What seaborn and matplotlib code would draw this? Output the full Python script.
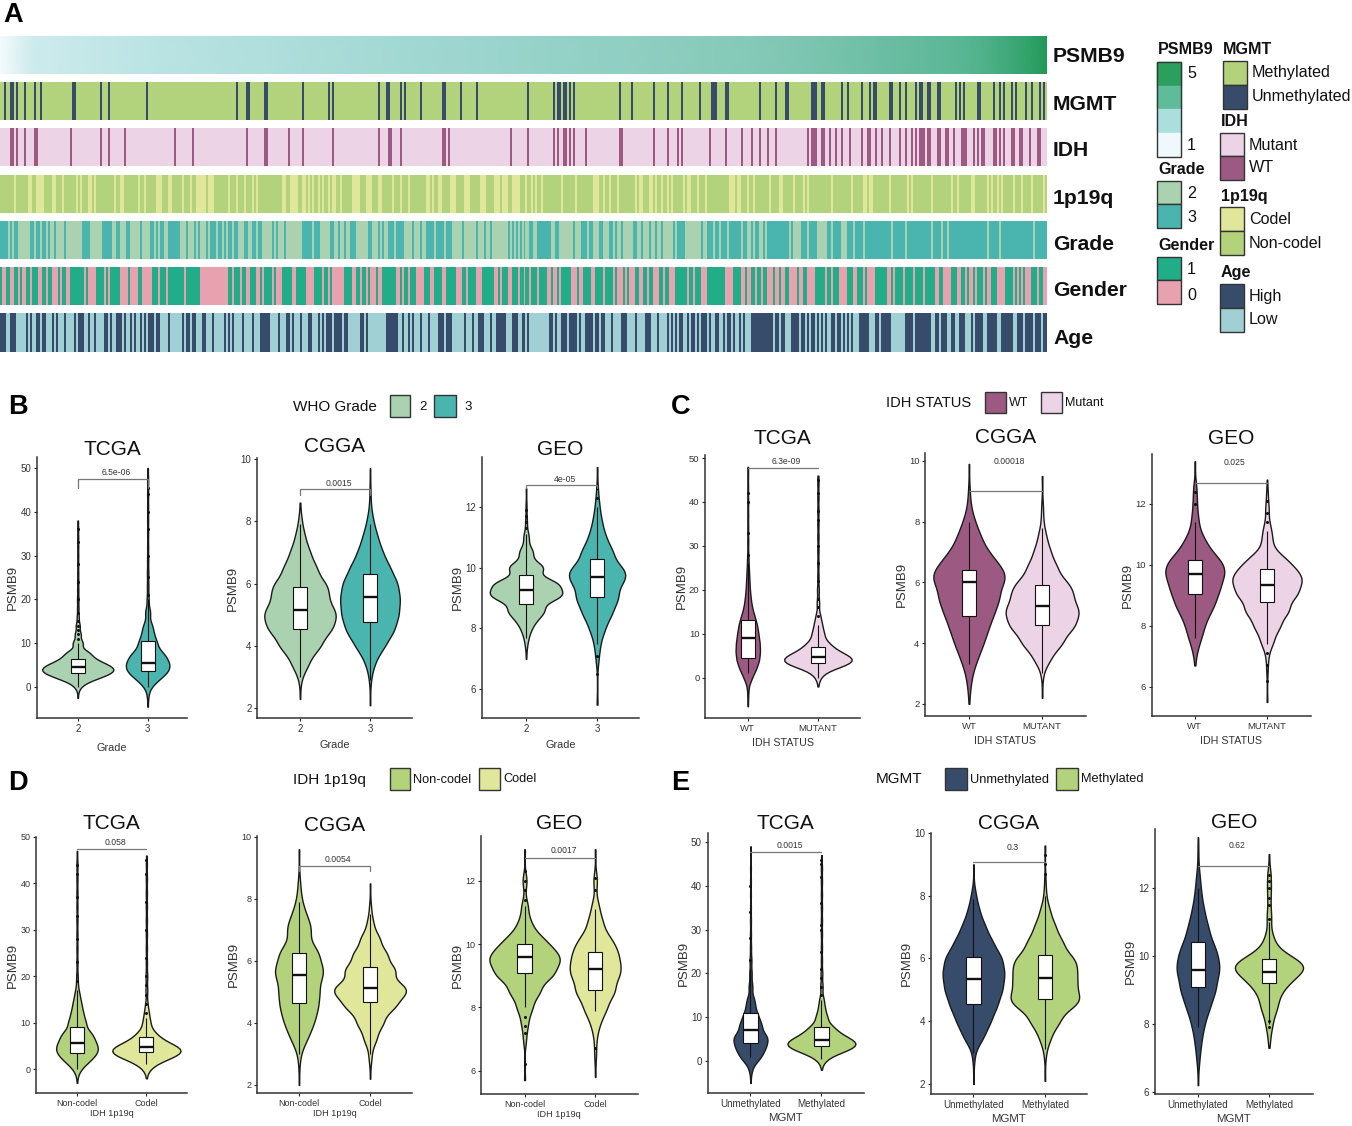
import numpy as np
import pandas as pd
import matplotlib
matplotlib.use("Agg")
import matplotlib.pyplot as plt
from matplotlib.colors import ListedColormap, LinearSegmentedColormap
from matplotlib.patches import Rectangle
import seaborn as sns

sns.set_theme(style="white")
plt.rcParams["font.family"] = ["Liberation Sans", "DejaVu Sans"]

W, H = 1352, 1126
N_SAMPLES = 524

# --------------------------------------------------
# colours
# --------------------------------------------------
C_METH = "#B2D27C"
C_UNMETH = "#374C6B"
C_MUT = "#EDD3E6"
C_WT = "#9C5A82"
C_CODEL = "#E0E69A"
C_G2 = "#AAD2B0"
C_G3 = "#4AB5AE"
C_M = "#21AD87"
C_F = "#E8A1AE"
C_HIGH = "#374C6B"
C_LOW = "#A0D0D4"

# --------------------------------------------------
# panel A: sample annotations, (first sample, run length)
# --------------------------------------------------
PSMB9_VALUES = [1.0, 1.25, 1.5, 1.58, 1.64, 1.7, 1.76, 1.82, 1.88, 1.94, 2.0, 2.03, 2.05, 2.08, 2.1, 2.13,
                2.15, 2.18, 2.2, 2.23, 2.25, 2.28, 2.3, 2.33, 2.35, 2.38, 2.4, 2.43, 2.45, 2.48, 2.5, 2.53,
                2.55, 2.58, 2.6, 2.63, 2.65, 2.68, 2.7, 2.73, 2.75, 2.78, 2.8, 2.83, 2.85, 2.9, 2.93, 2.96,
                3.0, 3.1, 3.2, 3.3, 3.4, 3.5, 3.6, 3.7, 3.8, 3.9, 4.0, 4.15, 4.3, 4.5, 4.7, 5.0]

MGMT_UNMETH = [(2, 1), (5, 2), (8, 1), (12, 1), (17, 1), (20, 1), (36, 2), (50, 1), (54, 1), (73, 1), (118, 1),
               (123, 2), (132, 2), (151, 1), (164, 1), (166, 1), (189, 1), (193, 2), (200, 1), (202, 1), (210, 1),
               (221, 2), (230, 1), (238, 1), (264, 1), (277, 1), (279, 2), (282, 2), (285, 1), (287, 1), (310, 1),
               (316, 1), (327, 1), (334, 1), (341, 1), (350, 1), (356, 3), (363, 2), (380, 1), (388, 1), (393, 2),
               (406, 1), (407, 2), (411, 2), (421, 1), (424, 1), (431, 1), (435, 1), (437, 2), (445, 1), (446, 1),
               (450, 1), (453, 1), (458, 1), (460, 2), (464, 2), (469, 2), (478, 1), (480, 1), (482, 1), (489, 2),
               (497, 1), (500, 1), (502, 1), (506, 1), (508, 1), (513, 1), (516, 1), (520, 1), (522, 1)]

IDH_WT = [(5, 2), (8, 1), (12, 1), (17, 2), (35, 1), (50, 1), (54, 1), (62, 1), (87, 1), (96, 1), (123, 1),
          (132, 2), (144, 1), (151, 1), (166, 1), (189, 1), (194, 2), (200, 1), (221, 2), (224, 1), (255, 1),
          (264, 1), (277, 1), (279, 1), (282, 2), (285, 1), (287, 1), (293, 1), (310, 2), (327, 1), (334, 1),
          (339, 1), (341, 1), (355, 1), (363, 1), (371, 1), (376, 1), (380, 1), (384, 1), (388, 1), (404, 1),
          (406, 3), (411, 2), (415, 1), (418, 1), (421, 1), (425, 1), (431, 1), (434, 2), (438, 1), (441, 1),
          (445, 1), (450, 1), (453, 1), (456, 1), (458, 1), (460, 3), (464, 2), (469, 2), (473, 2), (477, 1),
          (481, 3), (487, 1), (489, 1), (491, 2), (497, 2), (500, 1), (502, 1), (506, 2), (510, 2), (515, 1),
          (519, 2)]

CODEL = [(7, 1), (14, 2), (18, 4), (26, 2), (31, 1), (38, 1), (40, 1), (44, 2), (47, 1), (57, 1), (60, 2),
         (69, 1), (72, 1), (78, 3), (84, 2), (91, 1), (95, 1), (98, 1), (99, 4), (104, 3), (114, 1), (118, 1),
         (122, 1), (126, 1), (128, 1), (141, 2), (145, 4), (151, 2), (154, 1), (156, 1), (159, 1), (161, 1),
         (164, 1), (166, 2), (170, 1), (176, 4), (183, 3), (189, 2), (196, 1), (200, 1), (204, 1), (213, 2),
         (216, 1), (219, 2), (225, 3), (232, 3), (240, 3), (247, 3), (251, 3), (256, 4), (263, 1), (266, 1),
         (268, 1), (271, 1), (281, 1), (288, 1), (297, 3), (302, 1), (305, 1), (309, 1), (318, 1), (320, 2),
         (325, 2), (328, 1), (331, 1), (334, 1), (336, 1), (342, 1), (344, 2), (349, 1), (353, 1), (365, 3),
         (369, 2), (374, 1), (377, 1), (385, 1), (390, 2), (397, 1), (402, 1), (404, 1), (416, 1), (426, 1),
         (432, 2), (435, 2), (445, 1), (454, 1), (456, 1), (466, 1), (476, 1), (479, 1), (486, 2), (494, 1),
         (496, 1), (499, 1), (501, 1), (507, 1), (511, 1), (516, 1), (522, 1)]

GRADE_3 = [(0, 4), (5, 1), (7, 2), (15, 2), (18, 2), (21, 2), (24, 1), (27, 1), (32, 1), (41, 2), (43, 2), (51, 5),
           (58, 2), (63, 2), (70, 1), (75, 2), (78, 1), (80, 2), (84, 5), (89, 1), (93, 1), (97, 1), (99, 1),
           (103, 1), (105, 3), (109, 2), (112, 1), (114, 2), (117, 2), (122, 2), (126, 2), (129, 2), (136, 1),
           (138, 1), (142, 1), (151, 5), (157, 3), (165, 2), (169, 1), (172, 1), (175, 3), (184, 2), (189, 1),
           (191, 1), (194, 3), (198, 4), (206, 1), (210, 1), (213, 2), (215, 2), (218, 3), (220, 2), (223, 3),
           (231, 1), (238, 1), (242, 1), (245, 1), (254, 1), (256, 1), (258, 1), (260, 1), (262, 1), (265, 2),
           (269, 7), (278, 2), (287, 1), (291, 3), (295, 2), (300, 2), (305, 2), (308, 1), (311, 1), (317, 2),
           (321, 1), (325, 1), (328, 1), (331, 1), (337, 1), (339, 4), (351, 1), (354, 3), (358, 2), (361, 3),
           (365, 6), (372, 2), (376, 1), (378, 2), (382, 1), (384, 7), (391, 2), (393, 2), (396, 1), (401, 3),
           (405, 4), (414, 2), (417, 2), (419, 2), (424, 3), (428, 4), (433, 4), (437, 3), (440, 4), (444, 2),
           (447, 4), (451, 2), (454, 9), (463, 3), (467, 4), (472, 2), (475, 4), (479, 15), (495, 5), (501, 16),
           (518, 6)]

GENDER_0 = [(1, 2), (5, 2), (9, 1), (11, 2), (15, 1), (19, 1), (20, 1), (23, 1), (26, 3), (30, 1), (33, 2), (42, 1),
            (44, 4), (52, 1), (54, 1), (60, 4), (65, 4), (71, 5), (79, 1), (83, 1), (92, 1), (100, 14), (116, 1),
            (120, 1), (123, 2), (128, 2), (131, 1), (136, 1), (138, 3), (146, 2), (153, 4), (161, 1), (164, 1),
            (166, 6), (176, 2), (180, 1), (183, 1), (185, 3), (189, 2), (198, 2), (201, 1), (204, 1), (208, 4),
            (215, 1), (216, 1), (221, 2), (228, 3), (233, 1), (238, 3), (247, 2), (250, 1), (254, 2), (259, 1),
            (262, 1), (265, 1), (269, 1), (274, 2), (277, 2), (280, 1), (286, 3), (290, 2), (296, 2), (302, 1),
            (307, 1), (309, 3), (313, 1), (315, 3), (320, 2), (324, 1), (327, 3), (332, 1), (335, 3), (344, 1),
            (347, 1), (351, 3), (363, 4), (371, 2), (374, 2), (378, 1), (381, 1), (384, 3), (388, 2), (391, 2),
            (395, 4), (400, 2), (404, 4), (413, 1), (416, 1), (420, 4), (427, 2), (432, 1), (434, 4), (444, 2),
            (447, 1), (452, 1), (457, 1), (462, 1), (468, 2), (472, 4), (479, 2), (483, 1), (485, 1), (486, 1),
            (488, 1), (492, 1), (494, 1), (495, 1), (499, 4), (507, 1), (509, 1), (511, 1), (513, 3), (519, 1),
            (522, 2)]

AGE_HIGH = [(0, 3), (5, 3), (13, 1), (15, 1), (18, 2), (21, 1), (22, 1), (26, 1), (28, 1), (32, 1), (37, 1), (39, 3),
            (44, 1), (47, 1), (52, 1), (53, 1), (55, 1), (58, 3), (62, 1), (65, 1), (67, 1), (70, 1), (72, 1), (74, 3),
            (78, 2), (84, 1), (91, 1), (93, 2), (96, 2), (101, 2), (106, 1), (112, 1), (114, 1), (116, 1), (121, 1),
            (126, 1), (130, 1), (131, 4), (139, 1), (143, 1), (144, 1), (146, 1), (150, 1), (154, 2), (159, 1),
            (161, 1), (163, 3), (167, 4), (172, 2), (180, 2), (183, 1), (193, 6), (201, 1), (204, 1), (206, 1),
            (210, 1), (214, 1), (219, 3), (223, 3), (232, 1), (236, 1), (239, 3), (245, 1), (248, 5), (256, 3),
            (261, 1), (262, 1), (264, 1), (275, 2), (278, 1), (281, 3), (285, 4), (290, 1), (293, 4), (298, 2),
            (301, 2), (306, 1), (311, 2), (313, 1), (318, 1), (323, 3), (329, 1), (334, 1), (336, 1), (338, 1),
            (340, 1), (341, 1), (344, 1), (346, 2), (349, 1), (351, 3), (355, 1), (358, 1), (359, 1), (362, 1),
            (364, 2), (367, 1), (370, 1), (372, 1), (376, 11), (388, 2), (391, 2), (396, 4), (401, 1), (402, 1),
            (404, 1), (406, 2), (409, 1), (411, 1), (413, 1), (416, 2), (419, 2), (422, 1), (424, 1), (426, 1),
            (430, 5), (438, 2), (441, 5), (453, 1), (454, 3), (458, 8), (468, 2), (471, 3), (476, 2), (480, 3),
            (486, 1), (488, 4), (494, 5), (501, 6), (509, 3), (513, 4), (518, 3), (522, 2)]

# --------------------------------------------------
# violins: PSMB9 level, profile width at that level, box five numbers, tail points
# --------------------------------------------------
B_TCGA_2_Y = [-2.5, -1, 0, 1, 2, 3, 4, 5, 6, 7, 8, 10, 12, 14, 16, 18, 20, 22, 24, 26, 28, 30, 32, 34, 36, 38]
B_TCGA_2_W = [.5, 1, 6, 18, 45, 72, 85, 70, 45, 30, 20, 10, 6, 4, 2, 1.5, 1.5, 1.2, 1.2, 1, 1, 1, 1, 1, .8, .6]
B_TCGA_2_BOX = [0, 3.3, 4.5, 6.3, 10]
B_TCGA_2_OUT = [11, 12, 13, 14, 15, 17, 20, 24, 28, 33, 36]
B_TCGA_3_Y = [-4.5, -2, 0, 1, 2, 3, 4, 5, 6, 7, 8, 10, 12, 14, 17, 20, 23, 26, 29, 32, 35, 38, 41, 44, 47, 50]
B_TCGA_3_W = [.5, 1.5, 6, 15, 30, 42, 50, 52, 46, 38, 30, 22, 14, 9, 5, 2, 1.5, 1.5, 1.2, 1, 1, 1, 1, 1, 1, .5]
B_TCGA_3_BOX = [0, 3.6, 5.5, 10.5, 20]
B_TCGA_3_OUT = [21, 25, 30, 36, 40, 44, 45.5]

B_CGGA_2_Y = [2.3, 2.9, 3.2, 3.5, 4, 4.5, 4.9, 5.2, 5.6, 6, 6.5, 7, 7.5, 8, 8.6]
B_CGGA_2_W = [.5, 1.5, 9, 25, 50, 76, 85, 78, 68, 62, 40, 24, 12, 4, .7]
B_CGGA_2_BOX = [3.0, 4.55, 5.15, 5.9, 7.9]
B_CGGA_3_Y = [2.1, 3, 3.5, 4, 4.5, 5, 5.5, 6, 6.5, 7, 7.5, 8, 8.5, 9, 9.7]
B_CGGA_3_W = [.5, 2, 12, 35, 58, 68, 71, 66, 48, 30, 18, 8, 2, 1, .5]
B_CGGA_3_BOX = [2.9, 4.78, 5.58, 6.3, 7.9]

B_GEO_2_Y = [7, 7.4, 7.7, 8, 8.3, 8.6, 9, 9.2, 9.5, 10, 10.5, 11, 11.5, 12, 12.6]
B_GEO_2_W = [.5, 2, 6, 14, 28, 48, 76, 85, 72, 38, 15, 6, 2, 1, .5]
B_GEO_2_BOX = [7.7, 8.8, 9.25, 9.75, 11.1]
B_GEO_2_OUT = [11.3, 11.5, 11.7, 11.9]
B_GEO_3_Y = [5.5, 7, 7.5, 8, 8.5, 9, 9.5, 9.8, 10, 10.5, 11, 11.5, 12, 12.5, 13.3]
B_GEO_3_W = [.5, 2, 8, 20, 38, 55, 65, 66, 62, 42, 22, 12, 6, 2, .5]
B_GEO_3_BOX = [7.5, 9.03, 9.68, 10.27, 12]
B_GEO_3_OUT = [6.5, 7.1, 12.3, 12.6]

C_TCGA_WT_Y = [-6.5, -4, -2, 0, 2, 4, 6, 8, 10, 12, 14, 16, 18, 20, 22, 24, 26, 28, 31, 34, 37, 40, 43, 46, 48]
C_TCGA_WT_W = [.5, 1, 2, 10, 20, 27, 29, 28, 25, 22, 16, 10, 7, 5, 4, 3, 2, 1.2, 1, .8, .8, .8, .6, .6, .5]
C_TCGA_WT_BOX = [1, 4.5, 9, 13.2, 26]
C_TCGA_WT_OUT = [28, 33, 40, 42]
C_TCGA_MUT_Y = [-2, 0, 1, 2, 3, 4, 5, 6, 7, 8, 10, 12, 14, 17, 20, 23, 26, 29, 32, 35, 38, 41, 44, 46]
C_TCGA_MUT_W = [.5, 4, 8, 25, 62, 80, 60, 38, 25, 18, 12, 8, 4, 2, 1.5, 1, 1, 1, 1, 1, 1, 1, 1, 1]
C_TCGA_MUT_BOX = [0, 3.3, 4.7, 7, 12]
C_TCGA_MUT_OUT = [14, 16, 18, 22, 26, 30, 36, 38, 42, 45]

C_CGGA_WT_Y = [2, 2.5, 3, 3.5, 4, 4.5, 5, 5.5, 6, 6.3, 6.6, 7, 7.5, 8, 8.5, 9, 9.9]
C_CGGA_WT_W = [.5, 3, 8, 20, 34, 45, 58, 72, 81, 80, 68, 45, 28, 14, 4, 1.5, .5]
C_CGGA_WT_BOX = [3.3, 4.9, 6, 6.4, 8]
C_CGGA_MUT_Y = [2.2, 3, 3.5, 4, 4.5, 4.9, 5.2, 5.6, 6, 6.5, 7, 7.5, 8, 8.5, 9.5]
C_CGGA_MUT_W = [.5, 2, 20, 48, 75, 83, 80, 75, 58, 35, 20, 10, 3, 1.5, .5]
C_CGGA_MUT_BOX = [3, 4.6, 5.23, 5.9, 7.8]

C_GEO_WT_Y = [6.7, 7, 7.4, 7.8, 8.2, 8.5, 8.8, 9.2, 9.6, 9.9, 10.2, 10.6, 11, 11.5, 12, 12.5, 13.4]
C_GEO_WT_W = [.5, 3, 10, 20, 27, 35, 50, 60, 68, 66, 58, 32, 15, 8, 5, 3, .5]
C_GEO_WT_BOX = [7.6, 9.03, 9.7, 10.15, 11.4]
C_GEO_WT_OUT = [12.0, 12.4]
C_GEO_MUT_Y = [5.5, 6.5, 7, 7.5, 8, 8.5, 9, 9.4, 9.7, 10, 10.3, 10.8, 11.2, 11.8, 12.3, 12.8]
C_GEO_MUT_W = [.5, 1, 3, 15, 30, 50, 68, 80, 78, 58, 30, 12, 8, 4, 2, .5]
C_GEO_MUT_BOX = [7.4, 8.77, 9.35, 9.85, 11.1]
C_GEO_MUT_OUT = [6.2, 6.7, 7.1, 11.4, 11.7, 12.1]

D_TCGA_NC_Y = [-3, -1, 0, 1, 2, 3, 4, 5, 6, 7, 8, 10, 12, 14, 16, 18, 20, 23, 26, 29, 32, 35, 38, 41, 44, 47]
D_TCGA_NC_W = [.5, 2, 8, 20, 32, 42, 50, 47, 40, 34, 28, 20, 14, 10, 6, 2, 1.5, 1, 1, 1, 1, 1, 1, 1, 1, .5]
D_TCGA_NC_BOX = [0, 3.5, 5.5, 9, 17]
D_TCGA_NC_OUT = [19, 23, 28, 33, 37, 42, 44]
D_TCGA_CO_Y = [-2, 0, 1, 2, 3, 4, 5, 6, 7, 8, 10, 12, 14, 17, 20, 23, 26, 29, 32, 35, 38, 41, 44, 46]
D_TCGA_CO_W = [.5, 5, 15, 38, 65, 82, 60, 35, 22, 14, 8, 5, 2, 1.5, 1.5, 1, 1, 1, 1, 1, 1, 1, 1, .5]
D_TCGA_CO_BOX = [1, 3.7, 4.7, 6.8, 11]
D_TCGA_CO_OUT = [12, 14, 16, 18, 20, 24, 30, 36, 42, 45]

D_CGGA_NC_Y = [2, 2.8, 3, 3.5, 4, 4.5, 5, 5.5, 5.8, 6.3, 7, 7.5, 8, 8.5, 9.6]
D_CGGA_NC_W = [.5, 1.5, 3, 22, 38, 48, 52, 56, 56, 46, 30, 18, 6, 2, .5]
D_CGGA_NC_BOX = [3, 4.65, 5.55, 6.25, 7.9]
D_CGGA_CO_Y = [2.2, 2.8, 3, 3.5, 4, 4.5, 4.9, 5.2, 5.7, 6.2, 6.7, 7.2, 7.7, 8.5]
D_CGGA_CO_W = [.5, 2, 4, 16, 32, 60, 84, 80, 62, 42, 24, 8, 2, .5]
D_CGGA_CO_BOX = [3, 4.68, 5.12, 5.8, 7.5]

D_GEO_NC_Y = [5.7, 7, 7.5, 8, 8.5, 9, 9.4, 9.7, 10, 10.3, 10.7, 11.2, 12, 13]
D_GEO_NC_W = [.5, 2, 8, 18, 35, 65, 83, 80, 58, 32, 14, 6, 3, .5]
D_GEO_NC_BOX = [8, 9.1, 9.6, 10, 11.2]
D_GEO_NC_OUT = [6.2, 7.2, 7.4, 7.7, 11.4, 11.7, 12, 12.3]
D_GEO_CO_Y = [5.8, 6.5, 7, 7.3, 7.6, 8, 8.5, 9, 9.4, 9.8, 10.2, 10.7, 11.2, 12, 13]
D_GEO_CO_W = [.5, 2, 3, 6, 15, 30, 48, 58, 60, 55, 35, 18, 7, 3, .5]
D_GEO_CO_BOX = [7.9, 8.55, 9.2, 9.75, 11.1]
D_GEO_CO_OUT = [6.7, 11.7, 12.1]

E_TCGA_UN_Y = [-5, -2, 0, 1, 2, 3, 4, 5, 6, 8, 10, 12, 14, 17, 20, 23, 26, 29, 32, 35, 38, 41, 44, 47, 49]
E_TCGA_UN_W = [.5, 3, 15, 25, 32, 37, 40, 40, 36, 28, 20, 12, 8, 4, 2.5, 2, 1.2, 1, 1, .8, .8, .8, .8, .6, .5]
E_TCGA_UN_BOX = [1, 4.2, 7, 11, 21]
E_TCGA_UN_OUT = [23, 28, 34, 40]
E_TCGA_ME_Y = [-2, 0, 1, 2, 3, 4, 5, 6, 7, 8, 10, 12, 14, 17, 20, 23, 26, 29, 32, 35, 38, 41, 44, 47]
E_TCGA_ME_W = [.5, 5, 15, 40, 70, 80, 62, 40, 28, 20, 12, 7, 4, 2, 1.5, 1, 1, 1, 1, 1, 1, 1, 1, .5]
E_TCGA_ME_BOX = [.5, 3.5, 4.9, 7.7, 14]
E_TCGA_ME_OUT = [15, 17, 19, 21, 25, 30, 31, 36, 42, 45, 46]

E_CGGA_UN_Y = [2, 2.9, 3.5, 4, 4.5, 5, 5.5, 6, 6.5, 7, 7.5, 8, 9]
E_CGGA_UN_W = [.5, 2, 22, 40, 55, 67, 72, 67, 45, 28, 14, 4, .5]
E_CGGA_UN_BOX = [3, 4.55, 5.35, 6.05, 7.9]
E_CGGA_ME_Y = [2.1, 3, 3.5, 4, 4.5, 4.8, 5.2, 5.6, 6, 6.5, 7, 7.5, 8, 8.5, 9.6]
E_CGGA_ME_W = [.5, 2, 14, 35, 68, 80, 76, 74, 68, 42, 25, 12, 3, 1, .5]
E_CGGA_ME_BOX = [3.1, 4.7, 5.38, 6.1, 8]
E_CGGA_ME_OUT = [8.7, 9.0, 9.3]

E_GEO_UN_Y = [6.2, 7, 7.5, 8, 8.5, 9, 9.5, 9.9, 10.3, 10.8, 11.3, 11.8, 12.3, 13, 13.5]
E_GEO_UN_W = [.5, 3, 8, 15, 28, 42, 50, 47, 38, 25, 15, 8, 4, 1, .5]
E_GEO_UN_BOX = [7.9, 9.1, 9.6, 10.4, 12]
E_GEO_ME_Y = [7.3, 7.6, 8, 8.4, 8.7, 9, 9.3, 9.6, 9.8, 10, 10.3, 10.6, 11, 11.2, 11.6, 12, 12.4, 13]
E_GEO_ME_W = [.5, 3, 7, 15, 18, 27, 48, 80, 65, 40, 14, 7, 3, 5, 3, 4, 3, .5]
E_GEO_ME_BOX = [8, 9.2, 9.52, 9.92, 11]
E_GEO_ME_OUT = [7.9, 8.1, 11.1, 11.5, 11.7, 12, 12.2, 12.4]

TCGA_TICKS = [0, 10, 20, 30, 40, 50]
CGGA_TICKS = [2, 4, 6, 8, 10]
GEO_TICKS = [6, 8, 10, 12]


def px_axes(fig, left, top, right, bottom):
    return fig.add_axes([left / W, 1 - bottom / H, (right - left) / W, (bottom - top) / H])


def track(runs):
    vals = np.zeros(N_SAMPLES, dtype=int)
    for start, n in runs:
        vals[start:start + n] = 1
    return vals.reshape(1, -1)


def expand(levels, widths):
    levels = np.array(levels, dtype=float)
    counts = np.round(np.array(widths) * np.gradient(levels) * 20).astype(int).clip(1)
    return np.repeat(levels, counts)


def violin_panel(fig, rect, ylim, xlim, yticks, title, title_pad, groups, colors, xlabel,
                 first, second, pval, bracket_y, text_y, drop, label_pad, tick_fs, label_fs, bw):
    ax = px_axes(fig, *rect)
    for group, color, spec in zip(groups, colors, [first, second]):
        # each violin gets its own peak width
        df = pd.DataFrame({"group": group, "value": expand(spec[0], spec[1])})
        sns.violinplot(data=df, x="group", y="value", order=groups, color=color, inner=None, cut=0,
                       bw_method=bw, width=max(spec[1]) / 85 * 1.02, density_norm="width", linewidth=1,
                       linecolor="#1a1a1a", saturation=1, ax=ax)
    box_df = pd.concat([
        pd.DataFrame({"group": groups[0], "value": first[2]}),
        pd.DataFrame({"group": groups[1], "value": second[2]}),
    ])
    sns.boxplot(data=box_df, x="group", y="value", order=groups, color="white", saturation=1, width=0.2,
                whis=(0, 100), showcaps=False, linewidth=0.8, linecolor="#111111",
                medianprops={"linewidth": 1.7}, ax=ax)
    out_df = pd.concat([
        pd.DataFrame({"group": groups[0], "value": first[3]}),
        pd.DataFrame({"group": groups[1], "value": second[3]}),
    ])
    if len(out_df):
        sns.stripplot(data=out_df, x="group", y="value", order=groups, color="#111111", size=2.2,
                      jitter=False, ax=ax)

    # significance bracket
    ax.plot([0, 0, 1, 1], [bracket_y - drop, bracket_y, bracket_y, bracket_y - drop],
            color="#777777", lw=0.9, solid_joinstyle="miter", zorder=5)
    ax.text(0.55, text_y, pval, ha="center", va="center", fontsize=6.2, color="#333333")

    ax.set_xlim(*xlim)
    ax.set_ylim(*ylim)
    ax.set_yticks(yticks)
    ax.set_title(title, fontsize=15, pad=title_pad, color="#111111")
    ax.set_xlabel(xlabel, fontsize=label_fs, labelpad=label_pad, color="#333333")
    ax.set_ylabel("PSMB9", fontsize=9.5, labelpad=1, color="#333333")
    ax.tick_params(axis="both", labelsize=tick_fs, labelcolor="#333333", length=2, width=0.8, pad=2,
                   left=True, bottom=True)
    sns.despine(ax=ax)
    for side in ["left", "bottom"]:
        ax.spines[side].set_color("#333333")
        ax.spines[side].set_linewidth(1.1)
    return ax


fig = plt.figure(figsize=(W / 100, H / 100), dpi=100)

# --------------------------------------------------
# PANEL A
# --------------------------------------------------
psmb9_cmap = LinearSegmentedColormap.from_list(
    "psmb9",
    [(0, "#F4FBFC"), (0.125, "#CDEBEC"), (0.25, "#B9E3E3"), (0.375, "#9AD4CC"),
     (0.5, "#7FC6B2"), (0.75, "#5AB695"), (1, "#1F9958")])
ax = px_axes(fig, 0, 36, 1047, 74)
psmb9_row = np.array(PSMB9_VALUES)
sns.heatmap(np.vstack([psmb9_row, psmb9_row]), cmap=psmb9_cmap, vmin=1, vmax=5, cbar=False,
            xticklabels=False, yticklabels=False, shading="gouraud", ax=ax)
ax.set_xlim(0, len(PSMB9_VALUES) - 1)
ax.set_ylim(1, 0)

strips = [
    (MGMT_UNMETH, [C_METH, C_UNMETH], 82, 120),
    (IDH_WT, [C_MUT, C_WT], 128, 166),
    (CODEL, [C_METH, C_CODEL], 175, 213),
    (GRADE_3, [C_G2, C_G3], 221, 259),
    (GENDER_0, [C_M, C_F], 267, 305),
    (AGE_HIGH, [C_LOW, C_HIGH], 313, 352),
]
for runs, cols, top, bottom in strips:
    ax = px_axes(fig, 0, top, 1047, bottom)
    sns.heatmap(track(runs), cmap=ListedColormap(cols), vmin=0, vmax=1, cbar=False,
                xticklabels=False, yticklabels=False, ax=ax)

# overlay for all free text and legend swatches, in pixels
ov = fig.add_axes([0, 0, 1, 1], zorder=10)
ov.set_xlim(0, W)
ov.set_ylim(H, 0)
ov.axis("off")


def label(x, y, s, fs, bold=False, ha="left", color="#111111"):
    ov.text(x, y, s, fontsize=fs, fontweight="bold" if bold else "normal", ha=ha, va="center", color=color)


def swatches(x, y_edges, cols, w=24, inner=True):
    for y0, y1, c in zip(y_edges[:-1], y_edges[1:], cols):
        ov.add_patch(Rectangle((x, y0), w, y1 - y0, facecolor=c, edgecolor="#333333" if inner else c, lw=1))
    if not inner:
        ov.add_patch(Rectangle((x, y_edges[0]), w, y_edges[-1] - y_edges[0], fill=False, edgecolor="#333333", lw=1))


for name, y in zip(["PSMB9", "MGMT", "IDH", "1p19q", "Grade", "Gender", "Age"],
                   [57, 104, 150, 198, 244, 291, 338]):
    label(1053, y, name, 15.2, bold=True)

label(1158, 50, "PSMB9", 11.6, bold=True)
swatches(1157, [62, 86, 109, 133, 157], ["#2BA05E", "#5FBB99", "#AADFDD", "#EFF8FC"], inner=False)
label(1187, 73, "5", 11.6)
label(1187, 146, "1", 11.6)
label(1158, 169, "Grade", 11.6, bold=True)
swatches(1157, [181, 204, 228], [C_G2, C_G3])
label(1187, 193, "2", 11.6)
label(1187, 217, "3", 11.6)
label(1158, 246, "Gender", 11.6, bold=True)
swatches(1157, [257, 280, 304], [C_M, C_F])
label(1187, 269, "1", 11.6)
label(1187, 295, "0", 11.6)

label(1223, 50, "MGMT", 11.6, bold=True)
swatches(1223, [61, 85, 109], [C_METH, C_UNMETH])
label(1252, 73, "Methylated", 11.6)
label(1252, 97, "Unmethylated", 11.6)
label(1221, 122, "IDH", 11.6, bold=True)
swatches(1220, [133, 156, 180], [C_MUT, C_WT])
label(1249, 145, "Mutant", 11.6)
label(1249, 168, "WT", 11.6)
label(1221, 197, "1p19q", 11.6, bold=True)
swatches(1220, [207, 231, 255], [C_CODEL, C_METH])
label(1249, 220, "Codel", 11.6)
label(1249, 243, "Non-codel", 11.6)
label(1221, 273, "Age", 11.6, bold=True)
swatches(1220, [284, 308, 332], [C_HIGH, C_LOW])
label(1249, 296, "High", 11.6)
label(1249, 320, "Low", 11.6)

for letter, x, y in [("A", 3, 15), ("B", 8, 407), ("C", 671, 407), ("D", 8, 783), ("E", 671, 783)]:
    label(x, y, letter, 19.5, bold=True, color="black")

# --------------------------------------------------
# PANEL B: WHO grade
# --------------------------------------------------
G = ["2", "3"]
G_C = [C_G2, C_G3]
lab = dict(label_fs=7.8, tick_fs=7)
violin_panel(fig, (37, 457, 187, 718), (-7.08, 52.5), (-0.583, 1.563), TCGA_TICKS, "TCGA", 1.5, G, G_C, "Grade",
             (B_TCGA_2_Y, B_TCGA_2_W, B_TCGA_2_BOX, B_TCGA_2_OUT), (B_TCGA_3_Y, B_TCGA_3_W, B_TCGA_3_BOX, B_TCGA_3_OUT),
             "6.5e-06", 47.5, 49, 2, 7, bw=0.14, **lab)
violin_panel(fig, (257, 458, 412, 718), (1.69, 10.03), (-0.614, 1.6), CGGA_TICKS, "CGGA", 4, G, G_C, "Grade",
             (B_CGGA_2_Y, B_CGGA_2_W, B_CGGA_2_BOX, []), (B_CGGA_3_Y, B_CGGA_3_W, B_CGGA_3_BOX, []),
             "0.0015", 9.03, 9.2, 0.18, 5, bw=0.26, **lab)
violin_panel(fig, (482, 457, 639, 718), (5.06, 13.63), (-0.62, 1.59), GEO_TICKS, "GEO", 1.5, G, G_C, "Grade",
             (B_GEO_2_Y, B_GEO_2_W, B_GEO_2_BOX, B_GEO_2_OUT), (B_GEO_3_Y, B_GEO_3_W, B_GEO_3_BOX, B_GEO_3_OUT),
             "4e-05", 12.72, 12.9, 0.1, 5, bw=0.26, **lab)

label(293, 407, "WHO Grade", 11)
swatches(390, [395, 417], [C_G2], w=20)
label(419, 407, "2", 9.5)
swatches(434, [395, 417], [C_G3], w=22)
label(464, 407, "3", 9.5)

# --------------------------------------------------
# PANEL C: IDH status
# --------------------------------------------------
I = ["WT", "MUTANT"]
I_C = [C_WT, C_MUT]
lab = dict(label_fs=7.7, tick_fs=6.8)
violin_panel(fig, (705, 455, 860, 718), (-9.18, 50.7), (-0.61, 1.6), TCGA_TICKS, "TCGA", 8, I, I_C, "IDH STATUS",
             (C_TCGA_WT_Y, C_TCGA_WT_W, C_TCGA_WT_BOX, C_TCGA_WT_OUT), (C_TCGA_MUT_Y, C_TCGA_MUT_W, C_TCGA_MUT_BOX, C_TCGA_MUT_OUT),
             "6.3e-09", 47.65, 49.2, 0, 4, bw=0.14, **lab)
violin_panel(fig, (925, 453, 1086, 716), (1.6, 10.26), (-0.6, 1.6), CGGA_TICKS, "CGGA", 7, I, I_C, "IDH STATUS",
             (C_CGGA_WT_Y, C_CGGA_WT_W, C_CGGA_WT_BOX, []), (C_CGGA_MUT_Y, C_CGGA_MUT_W, C_CGGA_MUT_BOX, []),
             "0.00018", 9.01, 9.97, 0, 4, bw=0.26, **lab)
violin_panel(fig, (1151.5, 454, 1311, 716), (5.04, 13.64), (-0.6, 1.61), GEO_TICKS, "GEO", 7, I, I_C, "IDH STATUS",
             (C_GEO_WT_Y, C_GEO_WT_W, C_GEO_WT_BOX, C_GEO_WT_OUT), (C_GEO_MUT_Y, C_GEO_MUT_W, C_GEO_MUT_BOX, C_GEO_MUT_OUT),
             "0.025", 12.69, 13.37, 0, 4, bw=0.26, **lab)

label(886, 403, "IDH STATUS", 10.5)
swatches(985, [392, 413], [C_WT], w=21)
label(1009, 403, "WT", 9)
swatches(1040.5, [392, 413], [C_MUT], w=21)
label(1065, 403, "Mutant", 9)

# --------------------------------------------------
# PANEL D: 1p19q
# --------------------------------------------------
Q = ["Non-codel", "Codel"]
Q_C = [C_METH, C_CODEL]
lab = dict(label_fs=6.6, tick_fs=6.5)
violin_panel(fig, (36, 837, 187, 1093), (-5.17, 50), (-0.59, 1.585), TCGA_TICKS, "TCGA", 6, Q, Q_C, "IDH 1p19q",
             (D_TCGA_NC_Y, D_TCGA_NC_W, D_TCGA_NC_BOX, D_TCGA_NC_OUT), (D_TCGA_CO_Y, D_TCGA_CO_W, D_TCGA_CO_BOX, D_TCGA_CO_OUT),
             "0.058", 47.5, 48.8, 0, 1, bw=0.14, **lab)
violin_panel(fig, (257, 836, 412, 1093), (1.74, 10.03), (-0.59, 1.59), CGGA_TICKS, "CGGA", 3.6, Q, Q_C, "IDH 1p19q",
             (D_CGGA_NC_Y, D_CGGA_NC_W, D_CGGA_NC_BOX, []), (D_CGGA_CO_Y, D_CGGA_CO_W, D_CGGA_CO_BOX, []),
             "0.0054", 9.07, 9.27, 0.18, 1, bw=0.26, **lab)
violin_panel(fig, (481, 836, 637.5, 1094), (5.26, 13.42), (-0.617, 1.6), GEO_TICKS, "GEO", 5, Q, Q_C, "IDH 1p19q",
             (D_GEO_NC_Y, D_GEO_NC_W, D_GEO_NC_BOX, D_GEO_NC_OUT), (D_GEO_CO_Y, D_GEO_CO_W, D_GEO_CO_BOX, D_GEO_CO_OUT),
             "0.0017", 12.74, 12.95, 0, 1, bw=0.26, **lab)

label(293, 780, "IDH 1p19q", 11)
swatches(390, [768, 790], [C_METH], w=20)
label(413, 780, "Non-codel", 9.2)
swatches(479, [768, 790], [C_CODEL], w=21)
label(503, 779, "Codel", 9.2)

# --------------------------------------------------
# PANEL E: MGMT
# --------------------------------------------------
M = ["Unmethylated", "Methylated"]
M_C = [C_UNMETH, C_METH]
lab = dict(label_fs=8.2, tick_fs=7.1)
violin_panel(fig, (707.5, 833, 864, 1093), (-7.3, 52.05), (-0.606, 1.6), TCGA_TICKS, "TCGA", 3, M, M_C, "MGMT",
             (E_TCGA_UN_Y, E_TCGA_UN_W, E_TCGA_UN_BOX, E_TCGA_UN_OUT), (E_TCGA_ME_Y, E_TCGA_ME_W, E_TCGA_ME_BOX, E_TCGA_ME_OUT),
             "0.0015", 47.7, 49.2, 0, 3, bw=0.14, **lab)
violin_panel(fig, (930.6, 833, 1087, 1094), (1.68, 10), (-0.6, 1.59), CGGA_TICKS, "CGGA", 3, M, M_C, "MGMT",
             (E_CGGA_UN_Y, E_CGGA_UN_W, E_CGGA_UN_BOX, []), (E_CGGA_ME_Y, E_CGGA_ME_W, E_CGGA_ME_BOX, E_CGGA_ME_OUT),
             "0.3", 9.07, 9.55, 0, 3, bw=0.26, **lab)
violin_panel(fig, (1154.6, 829, 1313, 1094), (5.94, 13.74), (-0.61, 1.62), GEO_TICKS, "GEO", 1, M, M_C, "MGMT",
             (E_GEO_UN_Y, E_GEO_UN_W, E_GEO_UN_BOX, []), (E_GEO_ME_Y, E_GEO_ME_W, E_GEO_ME_BOX, E_GEO_ME_OUT),
             "0.62", 12.65, 13.26, 0, 3, bw=0.26, **lab)

label(876, 779, "MGMT", 11)
swatches(945, [768, 790], [C_UNMETH], w=22)
label(970, 780, "Unmethylated", 9.2)
swatches(1056, [768, 790], [C_METH], w=22)
label(1081, 779, "Methylated", 9.2)

fig.savefig("out.png", dpi=100)
